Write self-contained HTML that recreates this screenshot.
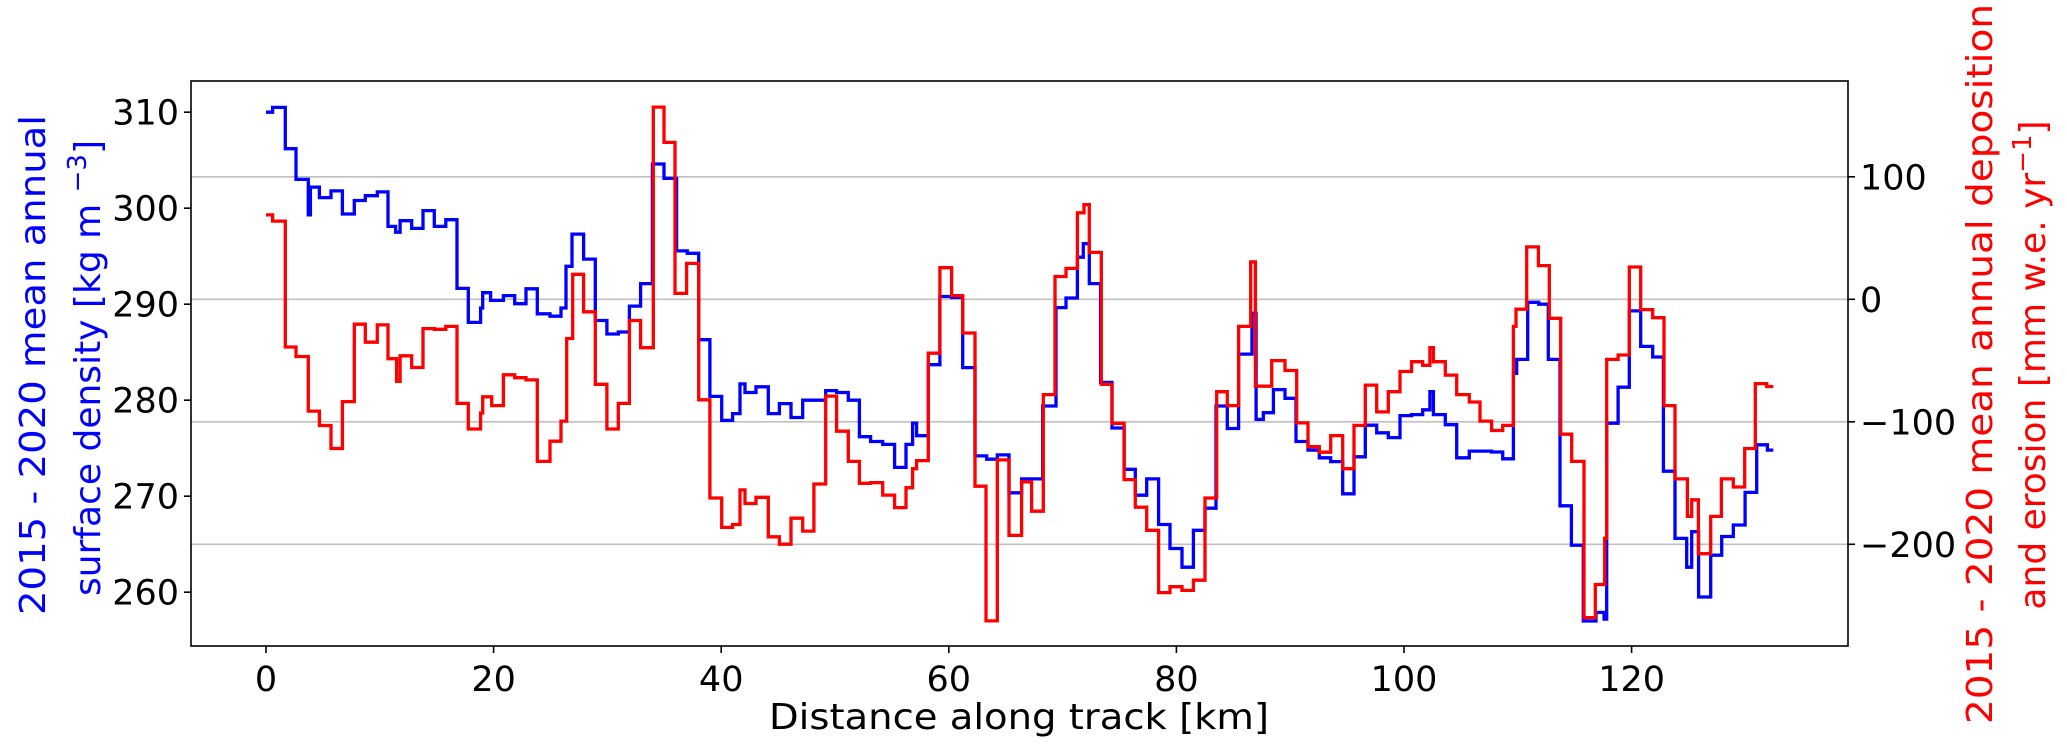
<!DOCTYPE html>
<html><head><meta charset="utf-8"><style>
body{margin:0;background:#fff}
svg{display:block}
text{font-family:"DejaVu Sans","Liberation Sans",sans-serif}
</style></head><body>
<svg id="chart" width="2067" height="754" viewBox="0 0 2067 754" xmlns="http://www.w3.org/2000/svg">
<g id="grid"></g>
<g id="series"></g>
<rect x="191" y="81" width="1657" height="565" fill="none" stroke="#000" stroke-width="1.6"/>
<g id="xticks"></g>
<g id="lticks"></g>
<g id="rticks"></g>
<text x="1019" y="729" font-size="36" text-anchor="middle" textLength="500" lengthAdjust="spacingAndGlyphs">Distance along track [km]</text>
<g fill="#0000ff" font-size="36">
<text transform="translate(45,365) rotate(-90)" text-anchor="middle" textLength="500" lengthAdjust="spacingAndGlyphs">2015 - 2020 mean annual</text>
<text transform="translate(100,368) rotate(-90)" text-anchor="middle">surface density [kg m <tspan font-size="26" dy="-14">−3</tspan><tspan dy="14">]</tspan></text>
</g>
<g fill="#ff0000" font-size="36">
<text transform="translate(1992,364) rotate(-90)" text-anchor="middle" textLength="720" lengthAdjust="spacingAndGlyphs">2015 - 2020 mean annual deposition</text>
<text transform="translate(2045,365) rotate(-90)" text-anchor="middle">and erosion [mm w.e. yr<tspan font-size="26" dy="-14">−1</tspan><tspan dy="14">]</tspan></text>
</g>
</svg>
<script>
const xTicks=[0,20,40,60,80,100,120];
const leftTicks=[260,270,280,290,300,310];
const rightTicks=[-200,-100,0,100];
const xEnd=132.45;
const blueX=[0,0.58,1.70,2.64,3.72,3.9,4.69,5.71,6.71,7.76,8.73,9.78,10.72,11.39,11.78,12.8,13.8,14.79,15.8,16.78,17.78,18.86,19.04,19.74,20.86,21.85,22.85,23.84,24.96,25.92,26.36,26.89,27.91,28.94,29.96,30.96,31.93,32.92,33.95,34.97,36.08,37.02,38.02,39.01,40.04,41.0,41.65,42.09,43.06,44.14,45.11,46.13,47.16,49.18,50.14,51.17,52.14,53.13,54.19,55.24,56.24,56.82,57.17,58.2,59.22,60.25,61.22,62.3,63.33,64.26,65.29,66.4,68.25,69.42,70.3,71.3,71.82,72.35,73.34,74.34,75.4,76.39,77.39,78.44,79.44,80.49,81.49,82.51,83.48,84.47,85.47,86.64,87.0,87.64,88.52,89.54,90.51,91.56,92.56,93.56,94.61,95.61,96.6,97.6,98.62,99.65,100.67,101.64,102.28,102.58,103.63,104.63,105.74,107.7,108.67,109.61,109.9,110.87,111.84,112.68,113.71,114.71,115.76,116.87,117.58,117.81,118.81,119.8,120.8,121.85,122.79,123.81,124.84,125.28,125.89,126.95,127.92,128.94,129.97,130.99,131.93];
const blueV=[310.0,310.5,306.2,303.0,299.3,302.2,301.1,301.8,299.4,300.8,301.3,301.7,298.1,297.5,298.7,297.9,299.75,298.1,298.8,291.65,288.1,289.6,291.2,290.4,290.9,290.05,291.6,289.0,288.75,289.6,293.95,297.3,294.7,288.3,286.9,287.1,289.8,292.15,304.6,303.1,295.55,295.3,286.3,280.4,277.9,278.6,281.7,280.8,281.4,278.6,279.65,278.2,280.0,281.0,280.8,280.0,276.2,275.7,275.4,273.0,275.4,277.6,276.3,283.7,290.8,290.7,283.4,274.2,273.85,274.3,270.35,271.8,279.4,289.65,290.65,294.9,296.3,292.15,281.85,277.1,272.8,270.1,271.8,267.05,264.55,262.6,266.45,268.75,279.4,277.05,284.8,289.05,278.0,278.7,281.1,280.2,275.7,274.8,274.0,273.6,270.25,274.1,277.4,276.6,276.1,278.4,278.5,279.0,280.9,278.5,277.45,274.0,274.7,274.6,273.9,282.8,284.25,290.2,290.0,284.25,269.0,264.9,257.0,257.9,257.2,277.6,281.35,289.3,285.6,284.5,272.6,265.6,262.6,266.3,259.5,263.85,265.8,267.0,270.4,275.35,274.8];
const redX=[0,0.58,1.70,2.64,3.72,4.69,5.71,6.71,7.76,8.73,9.78,10.72,11.48,11.78,12.8,13.8,14.79,15.8,16.78,17.78,18.86,19.04,19.83,20.86,21.85,22.85,23.84,24.96,25.92,26.42,26.95,27.91,28.94,29.96,30.96,31.93,32.92,34.03,34.97,35.94,36.96,38.02,39.01,40.04,41.0,41.65,42.09,43.06,44.14,45.11,46.13,47.16,48.15,49.18,50.14,51.17,52.14,53.13,54.19,55.24,56.24,56.82,57.17,58.2,59.22,60.25,61.22,62.3,63.27,64.26,65.29,66.4,67.28,68.3,69.33,70.3,71.3,71.88,72.35,73.4,74.34,75.4,76.39,77.39,78.44,79.44,80.49,81.49,82.51,83.54,84.47,85.47,86.53,86.94,88.37,89.54,90.57,91.56,92.56,93.56,94.61,95.61,96.6,97.6,98.62,99.65,100.67,101.64,102.28,102.58,103.63,104.63,105.74,106.68,107.7,108.67,109.61,109.84,110.78,111.81,112.77,113.77,114.74,115.82,116.81,117.64,117.81,118.81,119.8,120.8,121.85,122.85,123.81,124.9,125.28,125.87,126.95,127.89,128.94,129.94,130.87,131.87];
const redV=[68.9,63.8,-38.9,-46.7,-91.3,-103.0,-121.8,-83.5,-20.3,-35.0,-20.9,-48.5,-67.0,-46.1,-55.7,-23.9,-24.5,-22.1,-85.0,-105.9,-92.8,-79.6,-86.8,-61.6,-64.0,-65.8,-132.3,-115.8,-99.4,-32.0,20.4,-10.2,-69.4,-105.9,-85.0,-17.3,-39.5,156.9,128.1,4.8,29.3,-82.0,-162.2,-186.2,-183.8,-155.6,-166.7,-161.6,-193.9,-199.9,-178.7,-189.2,-150.8,-79.0,-107.7,-132.3,-150.2,-149.6,-159.8,-170.0,-153.8,-138.3,-131.7,-44.0,25.8,3.0,-27.5,-152.6,-262.5,-131.1,-192.7,-149.0,-173.0,-77.8,18.6,25.2,70.6,77.2,38.3,-69.4,-101.2,-147.2,-169.7,-188.6,-239.4,-234.6,-237.6,-229.3,-162.2,-75.4,-86.8,-22.1,30.5,-70.9,-50.0,-58.1,-100.9,-120.3,-124.8,-111.3,-138.3,-102.9,-70.0,-91.9,-75.4,-58.9,-50.9,-53.9,-39.5,-50.9,-61.9,-77.8,-83.8,-99.4,-107.1,-102.9,-22.1,-8.1,42.8,27.5,-15.5,-110.1,-132.3,-259.8,-232.8,-195.1,-49.1,-45.5,26.4,-8.4,-15.0,-86.8,-146.6,-177.2,-163.7,-207.7,-177.2,-146.6,-153.2,-121.8,-68.8,-71.2];

const NS='http://www.w3.org/2000/svg';
const PL=191,PR=1848,PT=81,PB=646;
const sx=v=>266+v*11.38;
const syL=v=>112.2+(310-v)*9.6;
const syR=v=>299.3-v*1.225;
function mk(tag,attrs,parent){const e=document.createElementNS(NS,tag);for(const k in attrs)e.setAttribute(k,attrs[k]);parent.appendChild(e);return e;}
const grid=document.getElementById('grid');
rightTicks.forEach(t=>{
  const l=mk('line',{x1:PL,x2:PR,y1:syR(t),y2:syR(t),stroke:'#c0c0c0','stroke-width':1.6},grid);
  
  
});
const xg=document.getElementById('xticks');
xTicks.forEach(t=>{
  const l=mk('line',{x1:sx(t),x2:sx(t),y1:PB,y2:PB+7,stroke:'#000','stroke-width':1.6},xg);
  
  
  const tx=mk('text',{x:sx(t),y:691,'font-size':35,'text-anchor':'middle'},xg);
  tx.textContent=t;
  
  
});
const lg=document.getElementById('lticks');
leftTicks.forEach(t=>{
  const l=mk('line',{x1:PL-7,x2:PL,y1:syL(t),y2:syL(t),stroke:'#000','stroke-width':1.6},lg);
  
  
  const tx=mk('text',{x:179,y:syL(t)+12.5,'font-size':35,'text-anchor':'end'},lg);
  tx.textContent=t;
  
  
});
const rg=document.getElementById('rticks');
rightTicks.forEach(t=>{
  const l=mk('line',{x1:PR,x2:PR+7,y1:syR(t),y2:syR(t),stroke:'#000','stroke-width':1.6},rg);
  
  
  const tx=mk('text',{x:1860,y:syR(t)+12.5,'font-size':35,'text-anchor':'start'},rg);
  tx.textContent=(t<0?'−':'')+Math.abs(t);
  
  
});
function stepPath(xs,vs,fy){
  let d='M'+sx(xs[0]).toFixed(1)+','+fy(vs[0]).toFixed(1);
  for(let i=0;i<xs.length;i++){
    const xn=i+1<xs.length?xs[i+1]:xEnd;
    d+='H'+sx(xn).toFixed(1);
    if(i+1<xs.length)d+='V'+fy(vs[i+1]).toFixed(1);
  }
  return d;
}
const sg=document.getElementById('series');
const bl=mk('path',{d:stepPath(blueX,blueV,syL),fill:'none',stroke:'#0000ff','stroke-width':3.3,'stroke-linejoin':'miter'},sg);


const rd=mk('path',{d:stepPath(redX,redV,syR),fill:'none',stroke:'#ff0000','stroke-width':3.3,'stroke-linejoin':'miter'},sg);


</script>
</body></html>
